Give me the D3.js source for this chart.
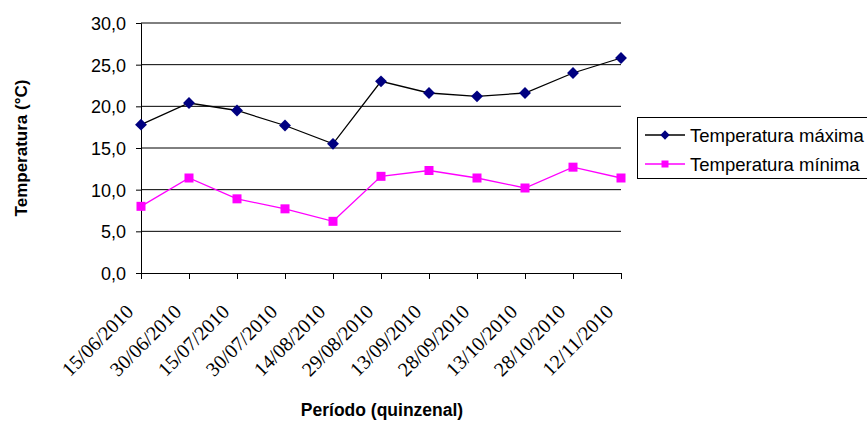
<!DOCTYPE html>
<head lang="en">
<meta charset="utf-8">
<title>Temperatura quinzenal</title>
<style>
body { margin:0; background:#fff; overflow:hidden; }
* { font-family:"Liberation Sans", Arial, sans-serif; }
.xlab { font-family:"Liberation Serif","Times New Roman",serif; }
</style>
<script src="https://cdn.jsdelivr.net/npm/d3@7"></script>
</head>
<body>
<div id="chart"></div>
<script>
// data
var periods = ["15/06/2010","30/06/2010","15/07/2010","30/07/2010","14/08/2010",
               "29/08/2010","13/09/2010","28/09/2010","13/10/2010","28/10/2010","12/11/2010"];
var tempMax = [17.8, 20.4, 19.5, 17.7, 15.5, 23.0, 21.6, 21.2, 21.6, 24.0, 25.8];
var tempMin = [8.0, 11.4, 8.9, 7.7, 6.2, 11.6, 12.3, 11.4, 10.2, 12.7, 11.4];
var yTicks = [0, 5, 10, 15, 20, 25, 30];
var seriesNames = ["Temperatura máxima", "Temperatura mínima"];

var width = 867, height = 423;
var plotL = 141, plotR = 621, plotT = 23, plotB = 273;

var svg = d3.select("#chart").append("svg")
    .attr("width", width)
    .attr("height", height);

var x = d3.scalePoint().domain(periods).range([plotL, plotR]);
var y = d3.scaleLinear().domain([0, 30]).range([plotB, plotT]);
var fmt = function(v) { return d3.format(".1f")(v).replace(".", ","); };

// gridlines
svg.append("g").selectAll("line")
    .data(yTicks.slice(1))
    .enter().append("line")
        .attr("x1", plotL).attr("x2", plotR)
        .attr("y1", function(d) { return y(d); })
        .attr("y2", function(d) { return y(d); })
        .style("stroke", "#000").style("stroke-width", "1px");

// y axis
var yAxis = svg.append("g")
    .attr("transform", "translate(" + plotL + ",0)")
    .call(d3.axisLeft(y).tickValues(yTicks).tickFormat(fmt).tickSizeOuter(0).tickSize(5).tickPadding(10));
yAxis.selectAll("text").style("font-size", "18px").style("fill", "#000").attr("dy", "0.36em");
yAxis.selectAll("line, path").style("stroke", "#000");

// x axis
var xAxis = svg.append("g")
    .attr("transform", "translate(0," + plotB + ")")
    .call(d3.axisBottom(x).tickSizeOuter(0).tickSize(6));
xAxis.selectAll("line, path").style("stroke", "#000");
xAxis.selectAll("text")
    .attr("class", "xlab")
    .style("font-size", "20px").style("fill", "#000")
    .attr("text-anchor", "end")
    .attr("dy", null)
    .attr("y", 0)
    .attr("transform", "translate(-7,40) rotate(-45)");

// axis titles
svg.append("text")
    .text("Temperatura (°C)")
    .attr("transform", "translate(27," + ((plotT + plotB) / 2) + ") rotate(-90)")
    .attr("text-anchor", "middle")
    .style("font-weight", "bold").style("font-size", "17px");
svg.append("text")
    .text("Período (quinzenal)")
    .attr("x", 382).attr("y", 416)
    .attr("text-anchor", "middle")
    .style("font-weight", "bold").style("font-size", "17.5px");

// series
var line = d3.line()
    .x(function(d, i) { return x(periods[i]); })
    .y(function(d) { return y(d); });

svg.append("path").datum(tempMax).attr("d", line)
    .style("fill", "none").style("stroke", "#000").style("stroke-width", "1.3px");
svg.append("path").datum(tempMin).attr("d", line)
    .style("fill", "none").style("stroke", "#ff00ff").style("stroke-width", "1.3px");

var diamond = d3.symbol().type(d3.symbolDiamond2).size(90);
svg.append("g").selectAll("path")
    .data(tempMax).enter().append("path")
        .attr("d", diamond)
        .attr("transform", function(d, i) { return "translate(" + x(periods[i]) + "," + y(d) + ")"; })
        .style("fill", "#000080");

svg.append("g").selectAll("rect")
    .data(tempMin).enter().append("rect")
        .attr("x", function(d, i) { return x(periods[i]) - 4.5; })
        .attr("y", function(d) { return y(d) - 4.5; })
        .attr("width", 9).attr("height", 9)
        .style("fill", "#ff00ff");

// legend
var lg = svg.append("g");
lg.append("rect")
    .attr("x", 637.5).attr("y", 117.5).attr("width", 240).attr("height", 61)
    .style("fill", "#fff").style("stroke", "#000").style("stroke-width", "1px");
var legendColors = ["#000", "#ff00ff"];
seriesNames.forEach(function(name, i) {
    var cy = 135 + i * 29;
    lg.append("line")
        .attr("x1", 645).attr("x2", 685).attr("y1", cy).attr("y2", cy)
        .style("stroke", legendColors[i]).style("stroke-width", "1.3px");
    if (i === 0) {
        lg.append("path").attr("d", d3.symbol().type(d3.symbolDiamond2).size(55))
            .attr("transform", "translate(665," + cy + ")").style("fill", "#000080");
    } else {
        lg.append("rect").attr("x", 661.5).attr("y", cy - 3.5).attr("width", 7).attr("height", 7)
            .style("fill", "#ff00ff");
    }
    lg.append("text").text(name)
        .attr("x", 690).attr("y", cy + 6.5)
        .style("font-size", "18.5px");
});
</script>
</body>
</html>
